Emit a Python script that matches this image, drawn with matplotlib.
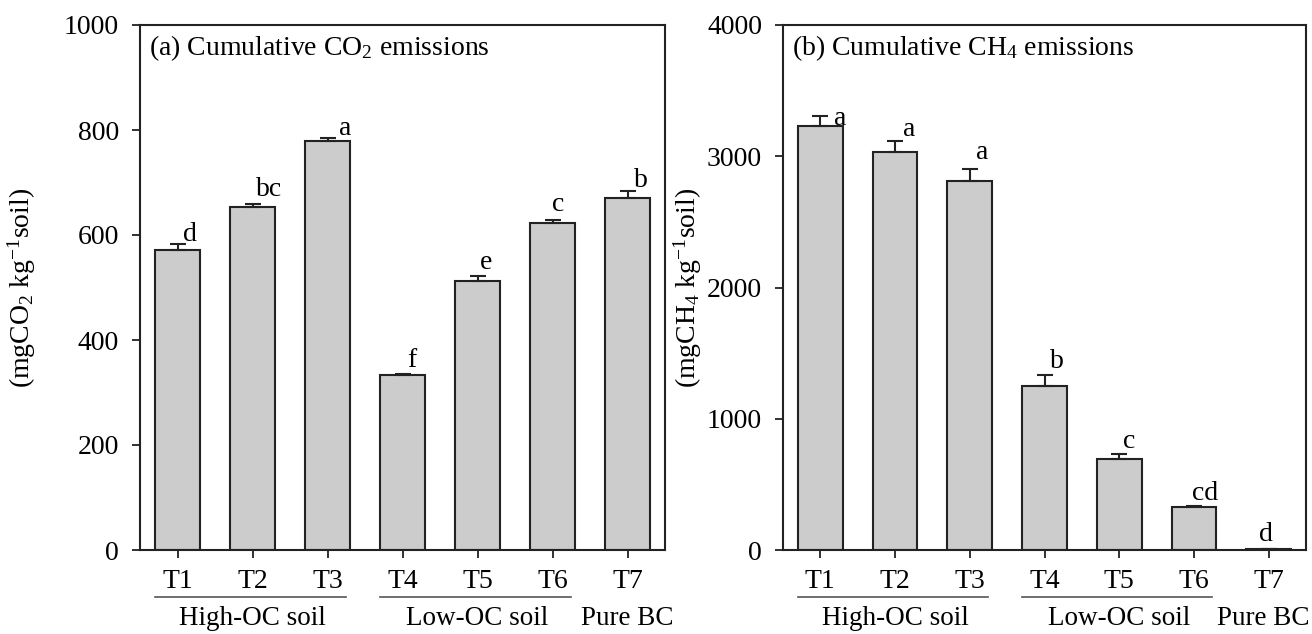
import numpy as np
import matplotlib
matplotlib.use("Agg")
import matplotlib.pyplot as plt

plt.rcParams['font.family'] = ['Liberation Serif', 'DejaVu Serif']
plt.rcParams['mathtext.fontset'] = 'custom'
plt.rcParams['mathtext.rm'] = 'Liberation Serif'
plt.rcParams['mathtext.it'] = 'Liberation Serif:italic'
plt.rcParams['font.size'] = 20

# data
treatments = ['T1', 'T2', 'T3', 'T4', 'T5', 'T6', 'T7']
groups = ['High-OC soil', 'Low-OC soil', 'Pure BC']
group_members = [[1, 2, 3], [4, 5, 6], [7]]

co2 = [572, 654, 780, 334, 513, 623, 671]
co2_se = [11, 5, 5, 2, 8, 5, 12]
co2_letters = ['d', 'bc', 'a', 'f', 'e', 'c', 'b']
co2_ticks = [0, 200, 400, 600, 800, 1000]

ch4 = [3230, 3035, 2810, 1252, 695, 324, 8]
ch4_se = [76, 81, 96, 80, 40, 13, 3]
ch4_letters = ['a', 'a', 'a', 'b', 'c', 'cd', 'd']
ch4_ticks = [0, 1000, 2000, 3000, 4000]

# letter offsets (x in bar units, y in pixels)
co2_dx = [0.17, 0.22, 0.23, 0.12, 0.12, 0.07, 0.18]
co2_dy = [3, 8, 3, 7, 7, 9, 4]
ch4_dx = [0.27, 0.19, 0.17, 0.17, 0.13, 0.15, -0.04]
ch4_dy = [-9, 5, 10, 7, 6, 6, 8]

fig = plt.figure(figsize=(13.12, 6.34), dpi=100)
ax1 = fig.add_axes([140 / 1312, 84 / 634, 525 / 1312, 525 / 634])
ax2 = fig.add_axes([783 / 1312, 84 / 634, 523 / 1312, 525 / 634])

x = np.arange(1, 8)


def draw_panel(ax, vals, se, letters, dx, dy, ticks, title, ylabel, ylab_x,
               last_shift=0.0):
    ax.bar(x, vals, width=0.6, color='#cccccc', edgecolor='#222222',
           linewidth=1.5, zorder=2)
    ax.errorbar(x, vals, yerr=[np.zeros(len(vals)), se], fmt='none',
                ecolor='#222222', elinewidth=1.5, capsize=6, capthick=1.5,
                zorder=3)
    for xi, v, s, lab, ddx, ddy in zip(x, vals, se, letters, dx, dy):
        ax.annotate(lab, (xi + ddx, v + s), xytext=(0, ddy * 0.72),
                    textcoords='offset points', ha='center', va='baseline')
    ax.set_xlim(0.5, 7.5)
    ax.set_ylim(ticks[0], ticks[-1])
    ax.set_yticks(ticks)
    ax.set_xticks(x)
    ax.set_xticklabels(treatments)
    ax.tick_params(direction='out', length=6, width=1.3, top=False,
                   right=False, color='#222222')
    ax.tick_params(axis='y', pad=9)
    ax.tick_params(axis='x', pad=8)
    for sp in ax.spines.values():
        sp.set_linewidth(1.5)
        sp.set_color('#222222')
    ax.text(0.017, 0.985, title, transform=ax.transAxes, ha='left',
            va='top')
    ax.set_ylabel(ylabel)
    ax.yaxis.set_label_coords(ylab_x, 0.5)

    # group labels under the tick labels
    trans = ax.get_xaxis_transform()
    for name, members in zip(groups, group_members):
        gx = np.mean(members)
        if len(members) > 1:
            ax.plot([members[0] - 0.3, members[-1] + 0.24], [-0.09, -0.09],
                    transform=trans, clip_on=False, color='#555555', lw=1.2)
        else:
            gx += last_shift
        ax.text(gx, -0.13, name, transform=trans, ha='center', va='center',
                fontsize=19.5)


draw_panel(ax1, co2, co2_se, co2_letters, co2_dx, co2_dy, co2_ticks,
           '(a) Cumulative CO$_2$ emissions',
           '(mgCO$_2$ kg$^{-1}$soil)', -0.195)
draw_panel(ax2, ch4, ch4_se, ch4_letters, ch4_dx, ch4_dy, ch4_ticks,
           '(b) Cumulative CH$_4$ emissions',
           '(mgCH$_4$ kg$^{-1}$soil)', -0.152, last_shift=-0.07)

fig.savefig('out.png', dpi=100)
